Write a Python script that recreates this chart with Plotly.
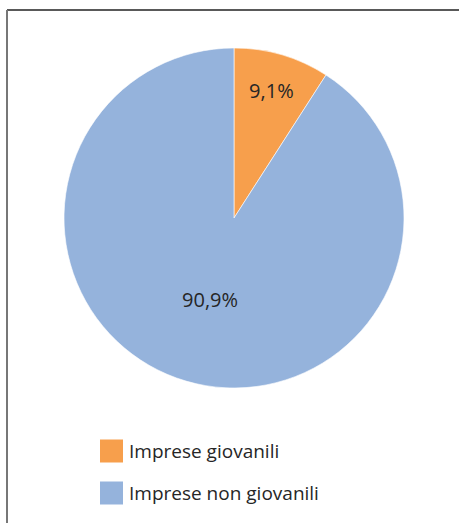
import plotly.graph_objects as go

categories = ["Imprese giovanili", "Imprese non giovanili"]
values = [9.1, 90.9]
colors = ["#F79F4C", "#95B3DC"]

W, H = 459, 523
FONT = "Open Sans, Noto Sans, sans-serif"

fig = go.Figure(go.Pie(
    labels=categories,
    values=values,
    marker=dict(colors=colors, line=dict(color="white", width=0.6)),
    sort=False,
    direction="clockwise",
    rotation=0,
    textinfo="percent",
    texttemplate="%{percent:.1%}",
    textposition="inside",
    insidetextorientation="horizontal",
    textfont=dict(family=FONT, size=20, color="#262626"),
    domain=dict(x=[64 / W, 404 / W], y=[1 - 388 / H, 1 - 48 / H]),
    showlegend=False,
    hoverinfo="label+percent",
))

shapes = [
    dict(type="line", xref="paper", yref="paper", x0=7 / W, x1=1, y0=1 - 10 / H, y1=1 - 10 / H,
         line=dict(color="#222222", width=1.5)),
    dict(type="line", xref="paper", yref="paper", x0=7 / W, x1=7 / W, y0=0, y1=1 - 10 / H,
         line=dict(color="#777777", width=2)),
]
annotations = []
legend_y = [451, 493]
for name, col, yc in zip(categories, colors, legend_y):
    shapes.append(dict(type="rect", xref="paper", yref="paper",
                       x0=100 / W, x1=123 / W, y0=1 - (yc + 11.5) / H, y1=1 - (yc - 11.5) / H,
                       fillcolor=col, line=dict(width=0)))
    annotations.append(dict(xref="paper", yref="paper", x=127 / W, y=1 - yc / H,
                            text=name, showarrow=False, xanchor="left", yanchor="middle",
                            font=dict(family=FONT, size=19, color="#262626")))

fig.update_layout(
    width=W, height=H,
    margin=dict(l=0, r=0, t=0, b=0),
    paper_bgcolor="white",
    plot_bgcolor="white",
    separators=",.",
    shapes=shapes,
    annotations=annotations,
)

fig.write_html("out.html", config={"displayModeBar": False},
               post_script="document.body.style.margin='0';document.body.style.overflow='hidden';")
